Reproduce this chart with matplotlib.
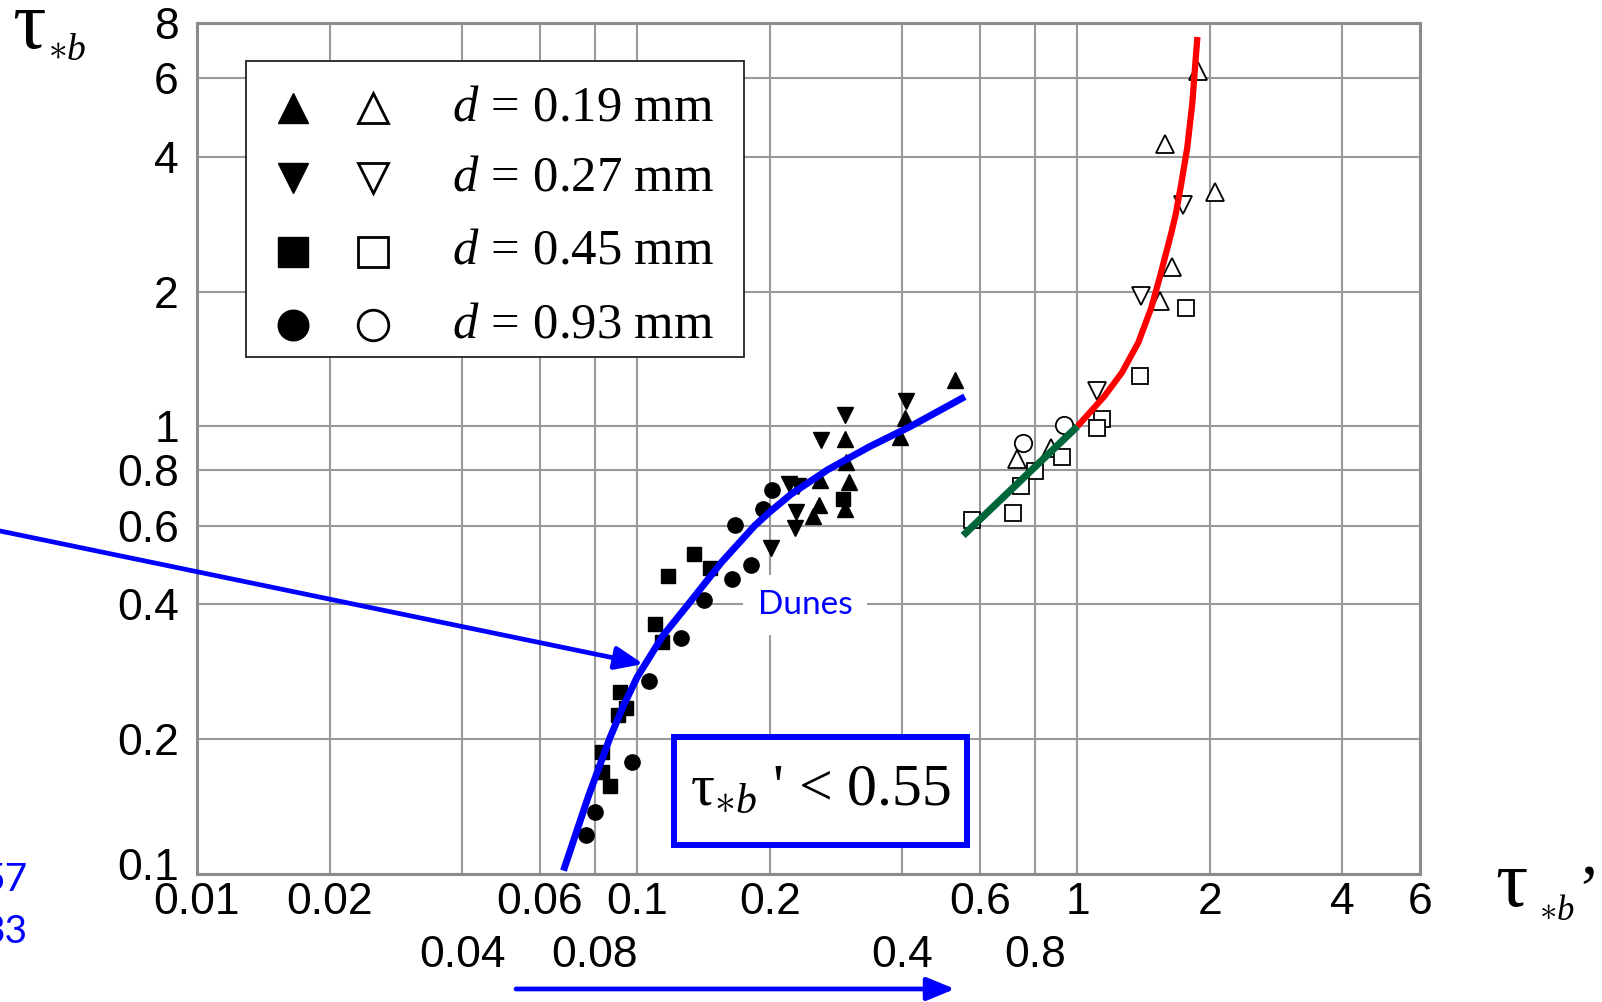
import numpy as np
import matplotlib
matplotlib.use("Agg")
from matplotlib import pyplot as plt
from matplotlib import font_manager
from matplotlib.patches import Rectangle, FancyArrowPatch
from matplotlib.ticker import NullLocator
from matplotlib.transforms import ScaledTranslation

plt.rcParams['mathtext.fontset'] = 'custom'
plt.rcParams['mathtext.rm'] = 'Liberation Serif'
plt.rcParams['mathtext.it'] = 'Liberation Serif:italic'
plt.rcParams['mathtext.bf'] = 'Liberation Serif:bold'

# ---- data ----
# filled markers (dunes regime)
tri_up_x = [0.527, 0.296, 0.298, 0.303, 0.259, 0.251, 0.296, 0.395, 0.405, 0.260]
tri_up_y = [1.27, 0.937, 0.834, 0.751, 0.668, 0.630, 0.655, 0.945, 1.046, 0.758]
tri_dn_x = [0.408, 0.297, 0.261, 0.221, 0.232, 0.230, 0.228, 0.201]
tri_dn_y = [1.141, 1.059, 0.930, 0.744, 0.737, 0.644, 0.592, 0.534]
sq_x = [0.1347, 0.1176, 0.1462, 0.1096, 0.1140, 0.0915, 0.0944, 0.0903, 0.0833, 0.0833, 0.0867, 0.293]
sq_y = [0.519, 0.462, 0.483, 0.361, 0.329, 0.255, 0.234, 0.226, 0.187, 0.169, 0.157, 0.689]
ci_x = [0.1638, 0.142, 0.126, 0.1063, 0.0975, 0.080, 0.0765, 0.2028, 0.193, 0.167, 0.181]
ci_y = [0.455, 0.409, 0.337, 0.270, 0.178, 0.137, 0.122, 0.72, 0.655, 0.603, 0.490]

# open markers (transition / upper regime)
otri_up_x = [1.883, 1.578, 2.058, 1.64, 1.543, 0.729, 0.872]
otri_up_y = [6.23, 4.29, 3.34, 2.27, 1.91, 0.847, 0.893]
otri_dn_x = [1.736, 1.394, 1.108]
otri_dn_y = [3.12, 1.96, 1.198]
osq_x = [1.762, 1.387, 1.136, 1.108, 0.921, 0.80, 0.743, 0.715, 0.575]
osq_y = [1.835, 1.296, 1.038, 0.992, 0.855, 0.793, 0.734, 0.64, 0.616]
oci_x = [0.752, 0.930]
oci_y = [0.917, 1.008]

# curves
dune_x = [0.068, 0.0775, 0.0865, 0.093, 0.1, 0.1143, 0.1306, 0.1555, 0.185, 0.2,
          0.224, 0.271, 0.3366, 0.418, 0.555]
dune_y = [0.1015, 0.149, 0.2, 0.237, 0.275, 0.340, 0.4, 0.497, 0.6, 0.6435,
          0.706, 0.8, 0.90, 1.0, 1.165]
upper_x = [1.0, 1.152, 1.262, 1.375, 1.469, 1.537, 1.637, 1.671, 1.719, 1.776, 1.824, 1.854, 1.873]
upper_y = [1.0, 1.1685, 1.319, 1.540, 1.833, 2.147, 2.727, 2.972, 3.461, 4.198, 5.287, 6.537, 7.426]
trans_x = [0.55, 1.0]
trans_y = [0.57, 1.0]

xticks_row1 = [0.01, 0.02, 0.06, 0.1, 0.2, 0.6, 1, 2, 4, 6]
xlabels_row1 = ['0.01', '0.02', '0.06', '0.1', '0.2', '0.6', '1', '2', '4', '6']
xticks_row2 = [0.04, 0.08, 0.4, 0.8]
xlabels_row2 = ['0.04', '0.08', '0.4', '0.8']
yticks = [0.1, 0.2, 0.4, 0.6, 0.8, 1, 2, 4, 6, 8]
ylabels = ['0.1', '0.2', '0.4', '0.6', '0.8', '1', '2', '4', '6', '8']
legend_labels = [r'$d\,{=}\,0.19\ \mathrm{mm}$', r'$d\,{=}\,0.27\ \mathrm{mm}$',
                 r'$d\,{=}\,0.45\ \mathrm{mm}$', r'$d\,{=}\,0.93\ \mathrm{mm}$']
legend_markers = ['^', 'v', 's', 'o']

installed = {f.name for f in font_manager.fontManager.ttflist}
if 'Liberation Sans Narrow' in installed:
    tick_font, tick_size = 'Liberation Sans Narrow', 36
else:
    tick_font, tick_size = 'Liberation Sans', 32
serif = ['Liberation Serif', 'DejaVu Serif']
gridc = '#9a9a9a'
blue = '#0000ff'

fig = plt.figure(figsize=(16.02, 10.02), dpi=100)
ax = fig.add_axes([0.12297, 0.12824, 0.76342, 0.84930])
ax.set_xscale('log')
ax.set_yscale('log')
ax.set_xlim(0.01, 6)
ax.set_ylim(0.1, 8)

ax.set_xticks(xticks_row1)
ax.set_xticklabels(xlabels_row1)
ax.set_xticks(xticks_row2, minor=True)
ax.set_xticklabels(xlabels_row2, minor=True)
ax.set_yticks(yticks)
ax.set_yticklabels(ylabels)
ax.yaxis.set_minor_locator(NullLocator())
ax.tick_params(axis='x', which='major', length=0, pad=6)
ax.tick_params(axis='x', which='minor', length=0, pad=44)
ax.tick_params(axis='y', length=0, pad=13)
for lab in ax.get_xticklabels(which='both') + ax.get_yticklabels():
    lab.set_fontfamily(tick_font)
    lab.set_fontsize(tick_size)
# lift the lowest y label a little, as in the original
ylab0 = ax.get_yticklabels()[0]
ylab0.set_transform(ylab0.get_transform() + ScaledTranslation(0, 7 / 72, fig.dpi_scale_trans))

ax.grid(True, which='both', color=gridc, lw=1.5, zorder=0)
ax.set_axisbelow(True)
for s in ax.spines.values():
    s.set_color('#8c8c8c')
    s.set_linewidth(2.2)

# data markers
ax.plot(tri_up_x, tri_up_y, '^', color='black', ms=11, ls='none', zorder=3)
ax.plot(tri_dn_x, tri_dn_y, 'v', color='black', ms=11, ls='none', zorder=3)
ax.plot(sq_x, sq_y, 's', color='black', ms=10.5, ls='none', zorder=3)
ax.plot(ci_x, ci_y, 'o', color='black', ms=11, ls='none', zorder=3)
op = dict(mfc='white', mec='black', mew=1.3, ls='none', zorder=3)
ax.plot(otri_up_x, otri_up_y, '^', ms=13.5, **op)
ax.plot(otri_dn_x, otri_dn_y, 'v', ms=13.5, **op)
ax.plot(osq_x, osq_y, 's', ms=12, **op)
ax.plot(oci_x, oci_y, 'o', ms=12.5, **op)

# curves
ax.plot(dune_x, dune_y, color=blue, lw=5, solid_capstyle='butt', solid_joinstyle='round', zorder=4)
ax.plot(upper_x, upper_y, color='#ff0000', lw=4.5, solid_capstyle='butt', solid_joinstyle='round', zorder=4)
ax.plot(trans_x, trans_y, color='#00663a', lw=5.2, solid_capstyle='butt', zorder=4)

ax.text(0.4971, 0.3155, 'Dunes', transform=ax.transAxes, ha='center', va='center',
        fontsize=24, family='Lato', color=blue, zorder=5,
        bbox=dict(boxstyle='square,pad=0.45', fc='white', ec='none'))

# legend box drawn by hand (two marker columns)
ax.add_patch(Rectangle((0.0401, 0.6073), 0.4072, 0.3475, transform=ax.transAxes,
                       fc='white', ec='#222222', lw=1.3, zorder=6))
rows = [0.8992, 0.8169, 0.7307, 0.6445]
for r, m, lab in zip(rows, legend_markers, legend_labels):
    ax.plot([0.0783], [r], m, color='black', ms=22, transform=ax.transAxes,
            clip_on=False, zorder=7)
    ax.plot([0.1437], [r], m, mfc='white', mec='black', mew=2, ms=22,
            transform=ax.transAxes, clip_on=False, zorder=7)
    ax.text(0.2083, r, lab, transform=ax.transAxes, ha='left', va='center',
            fontsize=36.5, family=serif, zorder=7)

# "tau_*b ' < 0.55" box
fig.add_artist(Rectangle((0.4205, 0.1564), 0.1831, 0.1081, transform=fig.transFigure,
                         fc='white', ec=blue, lw=4.3, zorder=5))
fig.text(0.5125, 0.2106, r"$\mathrm{\tau}_{\ast b}$ ' < 0.55", ha='center', va='center',
         fontsize=43, family=serif, zorder=6)

# axis labels
fig.text(0.0075, 0.952, r'$\mathrm{\tau}$', ha='left', va='baseline', fontsize=60, zorder=6)
fig.text(0.030, 0.940, r'$\ast b$', ha='left', va='baseline', fontsize=27, zorder=6)
fig.text(0.9335, 0.0955, r'$\mathrm{\tau}$', ha='left', va='baseline', fontsize=58, zorder=6)
fig.text(0.9605, 0.0815, r'$\ast b$', ha='left', va='baseline', fontsize=25, zorder=6)
fig.text(0.9844, 0.1377, '\u2019', ha='left', va='top', fontsize=48, family=serif, zorder=6)

# blue arrows
fig.add_artist(FancyArrowPatch((-0.01, 0.4734), (0.4016, 0.3373), transform=fig.transFigure,
                               arrowstyle='-|>,head_length=1.7,head_width=0.7',
                               mutation_scale=10, color=blue, lw=3.4,
                               shrinkA=0, shrinkB=0, zorder=6))
fig.add_artist(FancyArrowPatch((0.3221, 0.0130), (0.5961, 0.0130), transform=fig.transFigure,
                               arrowstyle='-|>,head_length=1.7,head_width=0.7',
                               mutation_scale=10, color=blue, lw=3.4,
                               shrinkA=0, shrinkB=0, zorder=6))

# cut-off blue numbers at the left edge
fig.text(0.0172, 0.1218, '57', ha='right', va='center', fontsize=28, family='Lato', color=blue)
fig.text(0.0172, 0.0699, '33', ha='right', va='center', fontsize=28, family='Lato', color=blue)

fig.savefig('out.png', dpi=100)
